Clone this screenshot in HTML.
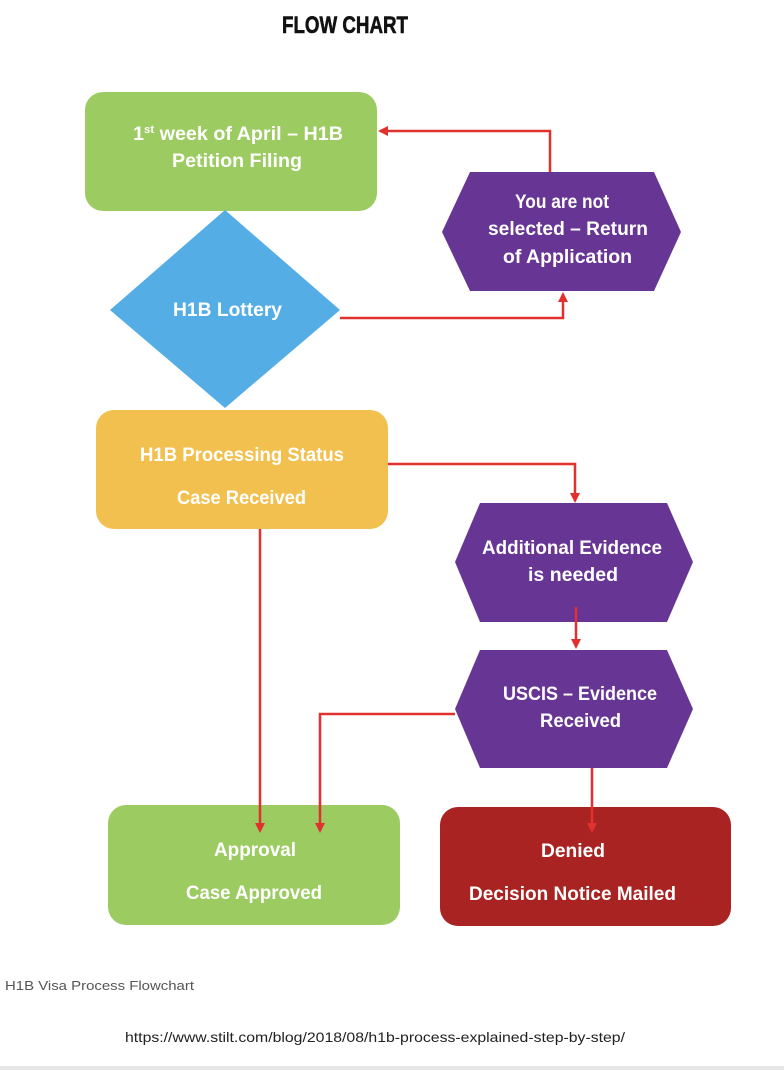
<!DOCTYPE html>
<html><head><meta charset="utf-8"><style>
html,body{margin:0;padding:0;background:#fff;width:784px;height:1070px;overflow:hidden}
svg{display:block}
.t{font-family:"Liberation Sans Narrow","Liberation Sans",sans-serif;font-weight:bold;fill:#fff;font-size:19px}
.ti{font-family:"Liberation Sans Narrow","Liberation Sans",sans-serif;font-weight:bold;fill:#111;font-size:24px;stroke:#111;stroke-width:0.6}
.c{font-family:"Liberation Sans",sans-serif;font-size:13px;fill:#555}
.u{font-family:"Liberation Sans",sans-serif;font-size:14px;fill:#222}
</style></head><body>
<svg width="784" height="1070" viewBox="0 0 784 1070" xmlns="http://www.w3.org/2000/svg">
<defs><marker id="a" markerWidth="10" markerHeight="10" refX="8" refY="5" orient="auto" markerUnits="userSpaceOnUse"><path d="M0,0 L10,5 L0,10z" fill="#e0312f"/></marker></defs>
<text class="ti" x="282" y="33" textLength="126" lengthAdjust="spacingAndGlyphs">FLOW CHART</text>

<rect x="85" y="92" width="292" height="119" rx="18" fill="#9ccb62"/>
<polygon points="225,210 340,310 225,408 110,310" fill="#54ade4"/>
<polygon points="442,232 470,172 654,172 681,232 654,291 470,291" fill="#673695"/>
<rect x="96" y="410" width="292" height="119" rx="18" fill="#f2c04f"/>
<polygon points="455,562 480,503 667,503 693,562 667,622 480,622" fill="#673695"/>
<polygon points="455,709 480,650 667,650 693,709 667,768 480,768" fill="#673695"/>
<rect x="108" y="805" width="292" height="120" rx="18" fill="#9ccb62"/>
<rect x="440" y="807" width="291" height="119" rx="18" fill="#a82321"/>

<g stroke="#e0312f" stroke-width="2.5" fill="none">
<polyline points="550,172 550,131 380,131" marker-end="url(#a)"/>
<polyline points="340,318 563,318 563,294" marker-end="url(#a)"/>
<polyline points="388,464 575,464 575,501" marker-end="url(#a)"/>
<polyline points="576,607 576,647" marker-end="url(#a)"/>
<polyline points="455,714 320,714 320,831" marker-end="url(#a)"/>
<polyline points="260,529 260,831" marker-end="url(#a)"/>
<polyline points="592,768 592,831" marker-end="url(#a)"/>
</g>

<text class="t" x="133" y="140" textLength="210" lengthAdjust="spacingAndGlyphs">1<tspan font-size="11" dy="-7">st</tspan><tspan dy="7"> week of April – H1B</tspan></text>
<text class="t" x="172" y="167" textLength="130" lengthAdjust="spacingAndGlyphs">Petition Filing</text>
<text class="t" x="173" y="316" textLength="109" lengthAdjust="spacingAndGlyphs">H1B Lottery</text>
<text class="t" x="515" y="208" textLength="94" lengthAdjust="spacingAndGlyphs">You are not</text>
<text class="t" x="488" y="235" textLength="160" lengthAdjust="spacingAndGlyphs">selected – Return</text>
<text class="t" x="503" y="263" textLength="129" lengthAdjust="spacingAndGlyphs">of Application</text>
<text class="t" x="140" y="461" textLength="204" lengthAdjust="spacingAndGlyphs">H1B Processing Status</text>
<text class="t" x="177" y="504" textLength="129" lengthAdjust="spacingAndGlyphs">Case Received</text>
<text class="t" x="482" y="554" textLength="180" lengthAdjust="spacingAndGlyphs">Additional Evidence</text>
<text class="t" x="528" y="581" textLength="90" lengthAdjust="spacingAndGlyphs">is needed</text>
<text class="t" x="503" y="700" textLength="154" lengthAdjust="spacingAndGlyphs">USCIS – Evidence</text>
<text class="t" x="540" y="727" textLength="81" lengthAdjust="spacingAndGlyphs">Received</text>
<text class="t" x="214" y="856" textLength="82" lengthAdjust="spacingAndGlyphs">Approval</text>
<text class="t" x="186" y="899" textLength="136" lengthAdjust="spacingAndGlyphs">Case Approved</text>
<text class="t" x="541" y="857" textLength="64" lengthAdjust="spacingAndGlyphs">Denied</text>
<text class="t" x="469" y="900" textLength="207" lengthAdjust="spacingAndGlyphs">Decision Notice Mailed</text>

<text class="c" x="5" y="990" textLength="189" lengthAdjust="spacingAndGlyphs">H1B Visa Process Flowchart</text>
<text class="u" x="125" y="1042" textLength="500" lengthAdjust="spacingAndGlyphs">https://www.stilt.com/blog/2018/08/h1b-process-explained-step-by-step/</text>
<rect x="0" y="1066" width="784" height="4" fill="#e6e6e6"/>
</svg>
</body></html>
